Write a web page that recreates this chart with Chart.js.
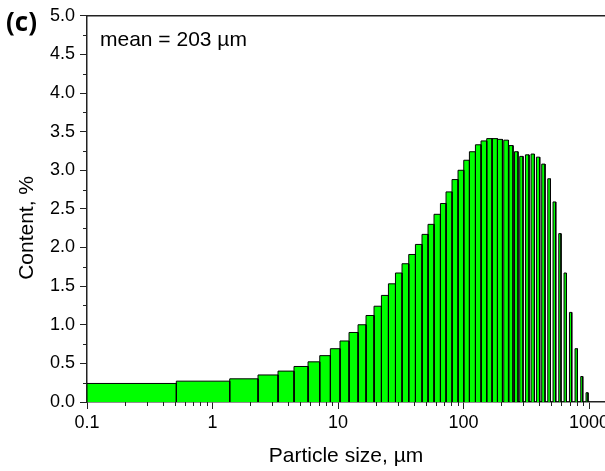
<!DOCTYPE html>
<html>
<head>
<meta charset="utf-8">
<script src="https://cdn.jsdelivr.net/npm/chart.js@4.4.1/dist/chart.umd.min.js"></script>
<style>
  html, body { margin: 0; padding: 0; background: #fff; overflow: hidden; }
  #wrap { width: 605px; height: 471px; }
</style>
</head>
<body>
<div id="wrap"><canvas id="myChart"></canvas></div>
<script>
// Particle size classes (µm) - lower and upper edge of each column
const binLow = [0.1, 0.515, 1.371, 2.305, 3.326, 4.46, 5.77, 7.15, 8.69, 10.37,
  12.24, 14.44, 16.72, 19.36, 22.17, 25.21, 28.68, 32.36, 36.59, 41.37,
  46.7, 52.14, 58.2, 65.45, 72.55, 80.98, 90.41, 100.4, 111.4, 124.4,
  137.9, 153.0, 168.7, 186.3, 209.1, 230.5, 254.5, 280.4, 311.4, 345.1,
  380.9, 419.8, 468.8, 516.6, 573.6, 632.3, 698.1, 773.5, 858.8, 946.4];
const binHigh = [0.515, 1.371, 2.305, 3.326, 4.46, 5.77, 7.15, 8.69, 10.37, 12.24,
  14.44, 16.72, 19.36, 22.17, 25.21, 28.68, 32.36, 36.59, 41.37, 46.7,
  52.14, 58.2, 65.45, 72.55, 80.98, 90.41, 100.4, 111.4, 124.4, 137.9,
  153.0, 168.7, 186.3, 204.2, 228.0, 248.0, 271.8, 298.0, 332.6, 367.2,
  404.7, 446.1, 492.6, 542.9, 598.4, 660.7, 728.2, 808.4, 891.0, 981.8];
// Content, %
const content = [0.24, 0.27, 0.30, 0.35, 0.40, 0.46, 0.52, 0.60, 0.69, 0.79,
  0.90, 1.00, 1.12, 1.24, 1.38, 1.53, 1.67, 1.79, 1.91, 2.04,
  2.17, 2.30, 2.43, 2.57, 2.72, 2.88, 3.00, 3.13, 3.24, 3.33,
  3.38, 3.41, 3.41, 3.40, 3.39, 3.32, 3.24, 3.18, 3.20, 3.21,
  3.17, 3.08, 2.89, 2.59, 2.18, 1.67, 1.16, 0.69, 0.33, 0.12];

// axis ticks
const xMajor = [0.1, 1, 10, 100, 1000];
const xTickLabels = ['0.1', '1', '10', '100', '1000'];
const xMin = 0.1, xMax = 1340;
const yMin = 0, yMax = 5;

const FONT = "'Liberation Sans', Arial, sans-serif";

// one filled outline per column
const datasets = content.map((v, i) => ({
  data: [
    { x: binLow[i], y: 0 },
    { x: binLow[i], y: v },
    { x: binHigh[i], y: v },
    { x: binHigh[i], y: 0 }
  ],
  fill: 'origin',
  backgroundColor: '#00ff00',
  borderColor: '#000',
  borderWidth: 1,
  pointRadius: 0,
  tension: 0
}));

function isDecade(v) {
  const l = Math.log10(v);
  return Math.abs(l - Math.round(l)) < 1e-9;
}
function isHalf(v) {
  return Math.abs(v * 2 - Math.round(v * 2)) < 1e-9;
}

// minor ticks, top frame and free text
const extras = {
  id: 'extras',
  afterDraw(chart) {
    const { ctx, chartArea: a, scales: { x, y } } = chart;
    ctx.save();
    ctx.strokeStyle = '#222';
    ctx.lineWidth = 1;
    ctx.beginPath();
    x.ticks.forEach(t => {
      if (isDecade(t.value)) return;
      const px = Math.round(x.getPixelForValue(t.value)) + 0.5;
      ctx.moveTo(px, a.bottom);
      ctx.lineTo(px, a.bottom + 4);
    });
    y.ticks.forEach(t => {
      if (isHalf(t.value)) return;
      const py = Math.round(y.getPixelForValue(t.value)) + 0.5;
      ctx.moveTo(a.left - 4, py);
      ctx.lineTo(a.left, py);
    });
    ctx.stroke();
    ctx.lineWidth = 1.5;
    ctx.beginPath();
    ctx.moveTo(a.left, a.top);
    ctx.lineTo(a.right, a.top);
    ctx.stroke();

    ctx.fillStyle = '#000';
    ctx.font = "bold 26px 'Open Sans', sans-serif";
    ctx.textBaseline = 'alphabetic';
    ctx.fillText('(c)', 6, 31);
    ctx.font = '21px ' + FONT;
    ctx.fillText('mean = 203 \u00b5m', 100, 46);

    ctx.translate(33, (a.top + a.bottom) / 2 + 19);
    ctx.rotate(-Math.PI / 2);
    ctx.textAlign = 'center';
    ctx.font = '21px ' + FONT;
    ctx.fillText('Content, %', 0, 0);
    ctx.restore();
  }
};

const ctx = document.getElementById('myChart').getContext('2d');
const myChart = new Chart(ctx, {
  type: 'line',
  data: { datasets: datasets },
  options: {
    responsive: true,
    maintainAspectRatio: false,
    animation: false,
    layout: { padding: { top: 13, right: 0, left: 0, bottom: 0 } },
    plugins: { legend: { display: false }, tooltip: { enabled: false } },
    scales: {
      x: {
        type: 'logarithmic',
        min: xMin,
        max: xMax,
        afterBuildTicks(scale) {
          const ticks = [];
          xMajor.forEach(m => {
            for (let k = 1; k <= 9; k++) {
              const v = m * k;
              if (v >= xMin && v <= xMax) ticks.push({ value: v });
            }
          });
          scale.ticks = ticks;
        },
        afterFit(scale) {
          scale.height = 69;
          scale.paddingLeft = 0;
          scale.paddingRight = 0;
        },
        grid: {
          drawOnChartArea: false,
          drawTicks: true,
          tickLength: 7,
          tickWidth: 1,
          tickColor: c => isDecade(c.tick.value) ? '#222' : 'rgba(0,0,0,0)'
        },
        border: { display: true, color: '#222', width: 1.5 },
        ticks: {
          autoSkip: false,
          maxRotation: 0,
          padding: 3,
          color: '#000',
          font: { family: FONT, size: 18 },
          callback(v) {
            const i = xMajor.findIndex(m => Math.abs(m - v) < 1e-9 * m);
            return i >= 0 ? xTickLabels[i] : '';
          }
        },
        title: {
          display: true,
          text: 'Particle size, \u00b5m',
          color: '#000',
          font: { family: FONT, size: 21 },
          padding: { top: 0, bottom: 2 }
        }
      },
      y: {
        type: 'linear',
        min: yMin,
        max: yMax,
        afterFit(scale) { scale.width = 87; },
        grid: {
          drawOnChartArea: false,
          drawTicks: true,
          tickLength: 7,
          tickWidth: 1,
          tickColor: c => isHalf(c.tick.value) ? '#222' : 'rgba(0,0,0,0)'
        },
        border: { display: true, color: '#222', width: 1.5 },
        ticks: {
          stepSize: 0.25,
          autoSkip: false,
          padding: 5,
          color: '#000',
          font: { family: FONT, size: 18 },
          callback: v => isHalf(v) ? v.toFixed(1) : ''
        }
      }
    }
  },
  plugins: [extras]
});
</script>
</body>
</html>
